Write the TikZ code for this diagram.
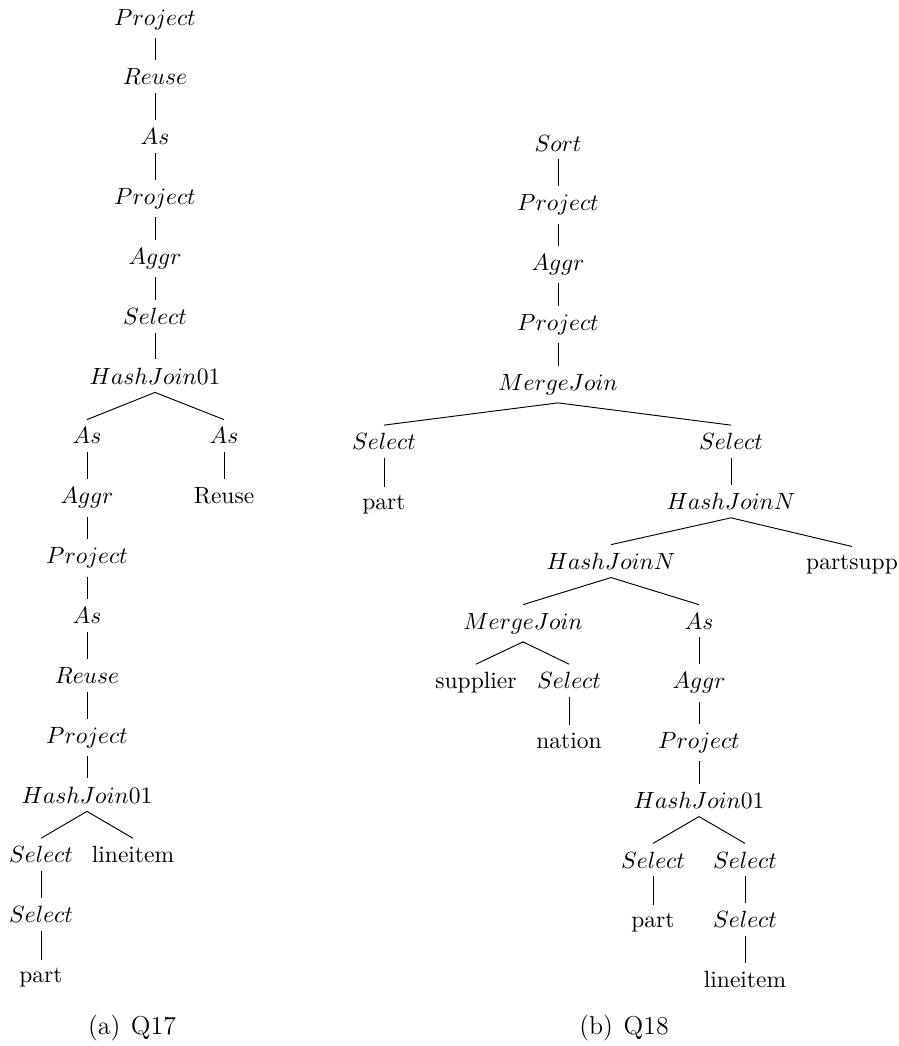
\documentclass[tikz,border=0pt]{standalone}
\begin{document}
\begin{tikzpicture}[x=0.4255pt, y=-0.4255pt,
  tn/.style={anchor=base, inner sep=0.3333em},
  captext/.style={anchor=base, inner sep=0pt, font=\fontsize{11}{13}\selectfont},
  edge/.style={line width=0.4pt}]
\useasboundingbox (0,0) rectangle (899,1046);

% ---------- (a) Q17 ----------
\node[tn] (a0)  at (155, 25.00)  {$Project$};
\node[tn] (a1)  at (155, 84.85)  {$Reuse$};
\node[tn] (a2)  at (155, 144.70) {$As$};
\node[tn] (a3)  at (155, 204.55) {$Project$};
\node[tn] (a4)  at (155, 264.40) {$Aggr$};
\node[tn] (a5)  at (155, 324.25) {$Select$};
\node[tn] (a6)  at (155, 384.10) {$HashJoin01$};
\node[tn] (a7)  at (87, 443.95)  {$As$};
\node[tn] (a7r) at (224, 443.95) {$As$};
\node[tn] (a8)  at (87, 503.80)  {$Aggr$};
\node[tn] (a8r) at (224, 503.80) {Reuse};
\node[tn] (a9)  at (87, 563.65)  {$Project$};
\node[tn] (a10) at (87, 623.50)  {$As$};
\node[tn] (a11) at (87, 683.35)  {$Reuse$};
\node[tn] (a12) at (87, 743.20)  {$Project$};
\node[tn] (a13) at (87, 803.05)  {$HashJoin01$};
\node[tn] (a14) at (41, 862.90)  {$Select$};
\node[tn] (a14r) at (133, 862.90) {lineitem};
\node[tn] (a15) at (41, 922.75)  {$Select$};
\node[tn] (a16) at (41, 982.60)  {part};

\foreach \p/\c in {a0/a1, a1/a2, a2/a3, a3/a4, a4/a5, a5/a6, a6/a7, a6/a7r,
                   a7/a8, a7r/a8r, a8/a9, a9/a10, a10/a11, a11/a12, a12/a13,
                   a13/a14, a13/a14r, a14/a15, a15/a16}
  \draw[edge] (\p.south) -- (\c.north);

\node[captext] (capa) at (132, 1034) {(a)\hspace{4.5pt}Q17};

% ---------- (b) Q18 ----------
\node[tn] (b0)   at (558, 151.00) {$Sort$};
\node[tn] (b1)   at (558, 210.75) {$Project$};
\node[tn] (b2)   at (558, 270.50) {$Aggr$};
\node[tn] (b3)   at (558, 330.25) {$Project$};
\node[tn] (b4)   at (558, 390.00) {$MergeJoin$};
\node[tn] (b5l)  at (384, 449.75) {$Select$};
\node[tn] (b5r)  at (731, 449.75) {$Select$};
\node[tn] (b6l)  at (384, 509.50) {part};
\node[tn] (b6r)  at (731, 509.50) {$HashJoinN$};
\node[tn] (b7l)  at (611, 569.25) {$HashJoinN$};
\node[tn] (b7r)  at (852, 569.25) {partsupp};
\node[tn] (b8l)  at (523, 629.00) {$MergeJoin$};
\node[tn] (b8r)  at (699, 629.00) {$As$};
\node[tn] (b9a)  at (476, 688.75) {supplier};
\node[tn] (b9b)  at (569, 688.75) {$Select$};
\node[tn] (b9r)  at (699, 688.75) {$Aggr$};
\node[tn] (b10b) at (569, 748.50) {nation};
\node[tn] (b10r) at (699, 748.50) {$Project$};
\node[tn] (b11)  at (699, 808.25) {$HashJoin01$};
\node[tn] (b12l) at (653, 868.00) {$Select$};
\node[tn] (b12r) at (745, 868.00) {$Select$};
\node[tn] (b13l) at (653, 927.75) {part};
\node[tn] (b13r) at (745, 927.75) {$Select$};
\node[tn] (b14)  at (745, 987.50) {lineitem};

\foreach \p/\c in {b0/b1, b1/b2, b2/b3, b3/b4, b4/b5l, b4/b5r, b5l/b6l, b5r/b6r,
                   b6r/b7l, b6r/b7r, b7l/b8l, b7l/b8r, b8l/b9a, b8l/b9b, b8r/b9r,
                   b9b/b10b, b9r/b10r, b10r/b11, b11/b12l, b11/b12r,
                   b12l/b13l, b12r/b13r, b13r/b14}
  \draw[edge] (\p.south) -- (\c.north);

\node[captext] (capb) at (624, 1034) {(b)\hspace{4.5pt}Q18};
\end{tikzpicture}
\end{document}
